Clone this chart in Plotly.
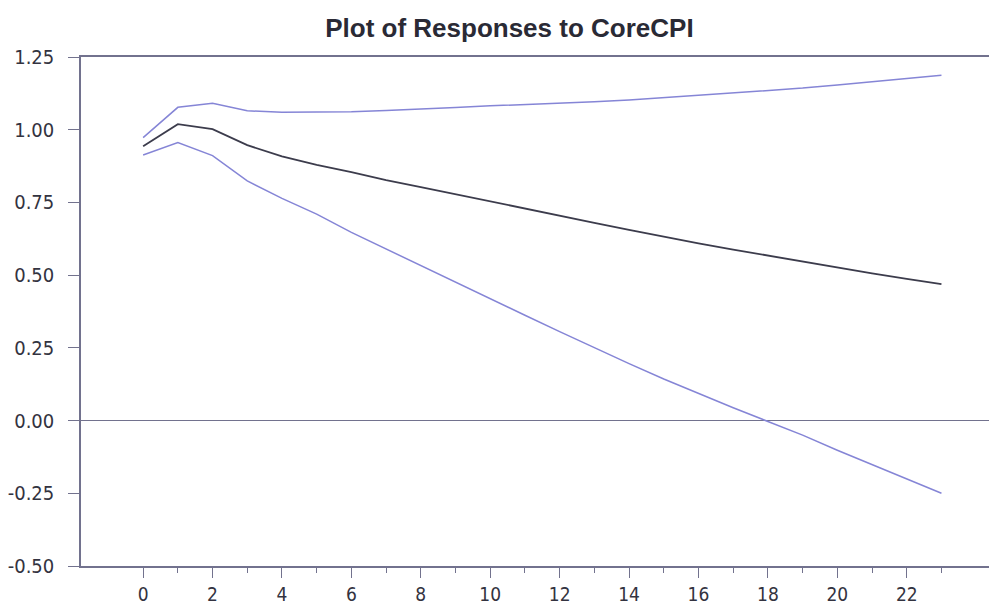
import plotly.graph_objects as go

horizon = list(range(24))
response = [0.943, 1.019, 1.002, 0.947, 0.908, 0.879, 0.854, 0.827, 0.803, 0.778,
            0.753, 0.728, 0.704, 0.680, 0.656, 0.632, 0.609, 0.588, 0.567, 0.546,
            0.526, 0.506, 0.487, 0.469]
upper = [0.973, 1.077, 1.091, 1.065, 1.060, 1.060, 1.062, 1.066, 1.070, 1.076,
         1.082, 1.086, 1.091, 1.096, 1.102, 1.110, 1.117, 1.125, 1.134, 1.143,
         1.154, 1.165, 1.175, 1.187]
lower = [0.913, 0.956, 0.911, 0.824, 0.764, 0.710, 0.647, 0.590, 0.532, 0.474,
         0.418, 0.362, 0.306, 0.250, 0.196, 0.143, 0.093, 0.044, -0.003, -0.050,
         -0.102, -0.152, -0.201, -0.250]

x_major = list(range(0, 23, 2))
x_minor = list(range(1, 24, 2))
y_ticks = [-0.50, -0.25, 0.00, 0.25, 0.50, 0.75, 1.00, 1.25]
y_labels = ["-0.50", "-0.25", "0.00", "0.25", "0.50", "0.75", "1.00", "1.25"]

band_color = "#8585d6"
mid_color = "#3c3c4c"
axis_color = "#72728e"
font_family = "DejaVu Sans Condensed, Liberation Sans, Arial, sans-serif"
title_family = "Liberation Sans, Arial, sans-serif"

fig = go.Figure()
fig.add_trace(go.Scatter(x=horizon, y=upper, mode="lines",
                         line=dict(color=band_color, width=1.5), showlegend=False))
fig.add_trace(go.Scatter(x=horizon, y=lower, mode="lines",
                         line=dict(color=band_color, width=1.5), showlegend=False))
fig.add_trace(go.Scatter(x=horizon, y=response, mode="lines",
                         line=dict(color=mid_color, width=1.8), showlegend=False))

fig.update_layout(
    width=989, height=597,
    margin=dict(l=73, r=0, t=49, b=39, autoexpand=False),
    paper_bgcolor="white", plot_bgcolor="white",
    title=dict(text="<b>Plot of Responses to CoreCPI</b>", x=0.507, xanchor="center",
               y=1 - 20 / 597, yanchor="middle",
               font=dict(family=title_family, size=26, color="#2a2a35")),
    font=dict(family=font_family, size=20, color="#333340"),
)
fig.update_xaxes(
    range=[-1.79, 24.6], showgrid=False, zeroline=False,
    showline=True, linecolor=axis_color, linewidth=1.5, mirror=True,
    tickmode="array", tickvals=x_major, ticktext=[str(v) for v in x_major],
    ticks="outside", ticklen=10, tickwidth=1.3, tickcolor=axis_color,
    minor=dict(tickmode="array", tickvals=x_minor, ticks="outside", ticklen=5,
               tickwidth=1.3, tickcolor=axis_color, showgrid=False),
    tickfont=dict(family=font_family, size=19, color="#333340"),
    automargin=False,
)
fig.update_yaxes(
    range=[-0.5, 1.25], showgrid=False,
    zeroline=True, zerolinecolor=axis_color, zerolinewidth=1.3,
    showline=True, linecolor=axis_color, linewidth=1.5, mirror=False,
    tickmode="array", tickvals=y_ticks, ticktext=y_labels,
    ticks="outside", ticklen=11, tickwidth=1.3, tickcolor=axis_color,
    ticklabelstandoff=10,
    tickfont=dict(family=font_family, size=20, color="#333340"),
    automargin=False,
)

fig.write_html("out.html")
